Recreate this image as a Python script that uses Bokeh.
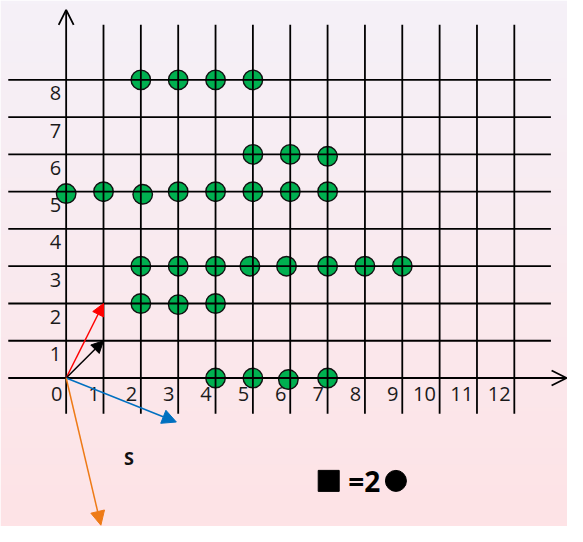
import numpy as np
from bokeh.plotting import figure
from bokeh.models import Arrow, NormalHead, OpenHead, Range1d
from bokeh.core.properties import value
from bokeh.embed import file_html
from bokeh.resources import INLINE

# ---------------- data ----------------
grid_x = [1, 2, 3, 4, 5, 6, 7, 8, 9, 10, 11, 12]
grid_y = [1, 2, 3, 4, 5, 6, 7, 8]
x_tick_pos = [0, 1, 2, 3, 4, 5, 6, 7, 8, 9, 10, 11, 12]
x_tick_labels = ["0", "1", "2", "3", "4", "5", "6", "7", "8", "9", "10", "11", "12"]
y_tick_pos = [1, 2, 3, 4, 5, 6, 7, 8]
y_tick_labels = ["1", "2", "3", "4", "5", "6", "7", "8"]

pts_x = [2, 3, 4, 5,
         5, 6, 7,
         0, 1, 2.05, 3, 4, 5, 6, 7,
         2, 3, 4, 4.92, 5.9, 7, 8, 9,
         2, 3, 4,
         4, 5, 5.95, 7]
pts_y = [8, 8, 8, 8,
         6, 6, 5.95,
         4.95, 5, 4.93, 5, 5, 5, 5, 5,
         3, 3, 3, 3, 3, 3, 3, 3,
         2, 1.97, 2,
         0, 0, -0.04, 0]

vec_x = [1, 1, 2.95, 0.93]
vec_y = [2, 1, -1.18, -3.95]
vec_colors = ["#FF0000", "#000000", "#0070C0", "#EE7A16"]
vec_head = [12, 12, 14, 14]

# ---------------- figure ----------------
X0, X1 = -1.758, 13.424
Y0, Y1 = -3.984, 10.13
p = figure(width=567, height=526, x_range=Range1d(X0, X1), y_range=Range1d(Y0, Y1),
           output_backend="svg", toolbar_location=None, min_border=0)
p.axis.visible = False
p.grid.visible = False
p.outline_line_color = None
p.border_fill_color = "#F9EBF0"

# background gradient
N = 128
top = np.array([245, 241, 248], dtype=float)
bot = np.array([254, 227, 230], dtype=float)
img = np.empty((N, 1), dtype=np.uint32)
view = img.view(dtype=np.uint8).reshape((N, 1, 4))
for i in range(N):
    t = i / (N - 1)
    c = bot * (1 - t) + top * t
    view[i, 0, 0] = int(c[0]); view[i, 0, 1] = int(c[1]); view[i, 0, 2] = int(c[2]); view[i, 0, 3] = 255
p.image_rgba(image=[img], x=X0, y=Y0, dw=X1 - X0, dh=Y1 - Y0)

# points (below grid lines)
p.scatter(pts_x, pts_y, size=19.5, marker="circle", fill_color="#00B050",
          line_color="#111111", line_width=1.4)

LW = 1.8
# vertical lines
p.segment(x0=grid_x, y0=[-0.96] * len(grid_x), x1=grid_x, y1=[9.48] * len(grid_x),
          line_color="black", line_width=LW)
# horizontal lines
p.segment(x0=[-1.55] * len(grid_y), y0=grid_y, x1=[12.98] * len(grid_y), y1=grid_y,
          line_color="black", line_width=LW)

# axes with open arrows
p.add_layout(Arrow(end=OpenHead(size=15, line_width=LW, line_color="black"),
                   x_start=-1.55, y_start=0, x_end=13.4, y_end=0,
                   line_width=LW, line_color="black"))
p.add_layout(Arrow(end=OpenHead(size=15, line_width=LW, line_color="black"),
                   x_start=0, y_start=-0.96, x_end=0, y_end=9.88,
                   line_width=LW, line_color="black"))

# vectors
for vx, vy, c, hs in zip(vec_x, vec_y, vec_colors, vec_head):
    p.add_layout(Arrow(end=NormalHead(size=hs, fill_color=c, line_color=c, line_width=1),
                       x_start=0, y_start=0, x_end=vx, y_end=vy,
                       line_width=1.5, line_color=c))

# tick labels
p.text(x=[v - 0.1 for v in x_tick_pos], y=[-0.44] * len(x_tick_pos), text=x_tick_labels,
       text_align="right", text_baseline="middle", text_font=value("Open Sans"),
       text_font_size="20px", text_color="#1a1a1a")
p.text(x=[-0.13] * len(y_tick_pos), y=[v - 0.36 for v in y_tick_pos], text=y_tick_labels,
       text_align="right", text_baseline="middle", text_font=value("Open Sans"),
       text_font_size="20px", text_color="#1a1a1a")

# annotations
p.text(x=[1.68], y=[-2.14], text=["S"], text_align="center", text_baseline="middle",
       text_font=value("Open Sans"), text_font_style="bold", text_font_size="18px",
       text_color="#111111")
p.scatter([7.03], [-2.76], marker="square", size=21, fill_color="black", line_color="black")
p.text(x=[7.98], y=[-2.76], text=["=2"], text_align="center", text_baseline="middle",
       text_font=value("Open Sans"), text_font_style="bold", text_font_size="28px",
       text_color="black")
p.scatter([8.83], [-2.76], marker="circle", size=21, fill_color="black", line_color="black")

open("out.html", "w").write(file_html(p, INLINE))
